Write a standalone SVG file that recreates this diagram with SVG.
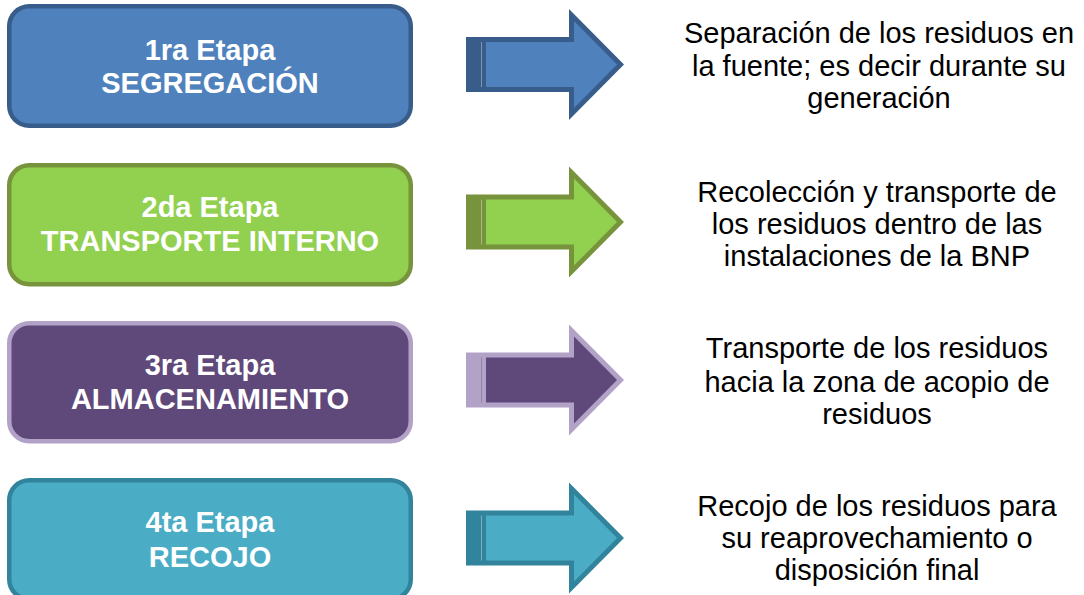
<svg xmlns="http://www.w3.org/2000/svg" xmlns:xlink="http://www.w3.org/1999/xlink" width="1084" height="595" viewBox="0 0 1084 595">
<style>
.box{stroke-width:4.5}
.t{font-family:"Liberation Sans",Arial,sans-serif;font-weight:bold;font-size:29px;fill:#FFFFFF;text-anchor:middle}
.d{font-family:"Liberation Sans",Arial,sans-serif;font-size:29px;fill:#000000;text-anchor:middle}
.tl{stroke-width:1;opacity:0.35}
</style>
<defs>
<polygon id="aOut" points="466,-27.5 569,-27.5 569,-55.5 624,0 569,55.5 569,27.5 466,27.5"/>
<polygon id="aIn" points="486,-22.5 574,-22.5 574,-43.5 617,0 574,43.5 574,22.5 486,22.5"/>
<line id="aLine" x1="481.5" y1="-22.5" x2="481.5" y2="22.5"/>
</defs>
<rect width="1084" height="595" fill="#FFFFFF"/>
<g id="connectors">
<g id="arrow1" transform="translate(0,64.5)"><use xlink:href="#aOut" fill="#385D8A"/><use xlink:href="#aIn" fill="#4F81BD"/><use xlink:href="#aLine" class="tl" stroke="#FFFFFF"/></g>
<g id="arrow2" transform="translate(0,222)"><use xlink:href="#aOut" fill="#77933C"/><use xlink:href="#aIn" fill="#92D050"/><use xlink:href="#aLine" class="tl" stroke="#FFFFFF"/></g>
<g id="arrow3" transform="translate(0,380)"><use xlink:href="#aOut" fill="#B3A2C7"/><use xlink:href="#aIn" fill="#5F497A"/><use xlink:href="#aLine" class="tl" stroke="#5F497A"/></g>
<g id="arrow4" transform="translate(0,538)"><use xlink:href="#aOut" fill="#31849B"/><use xlink:href="#aIn" fill="#4BACC6"/><use xlink:href="#aLine" class="tl" stroke="#FFFFFF"/></g>
</g>
<g id="stage1">
<rect class="box" x="9.25" y="6.25" width="401.5" height="119.5" rx="20" fill="#4F81BD" stroke="#385D8A"/>
<text class="t" x="210" y="60">1ra Etapa</text>
<text class="t" x="210" y="93">SEGREGACIÓN</text>
</g>
<g id="stage2">
<rect class="box" x="9.25" y="165.25" width="401.5" height="119" rx="20" fill="#92D050" stroke="#77933C"/>
<text class="t" x="210" y="217">2da Etapa</text>
<text class="t" x="210" y="251">TRANSPORTE INTERNO</text>
</g>
<g id="stage3">
<rect class="box" x="9.25" y="323.25" width="401.5" height="118" rx="20" fill="#5F497A" stroke="#B3A2C7"/>
<text class="t" x="210" y="375">3ra Etapa</text>
<text class="t" x="210" y="409">ALMACENAMIENTO</text>
</g>
<g id="stage4">
<rect class="box" x="9.25" y="480.25" width="401.5" height="119" rx="20" fill="#4BACC6" stroke="#31849B"/>
<text class="t" x="210" y="532">4ta Etapa</text>
<text class="t" x="210" y="567">RECOJO</text>
</g>
<g id="desc1">
<text class="d" x="879" y="43">Separación de los residuos en</text>
<text class="d" x="879" y="76">la fuente; es decir durante su</text>
<text class="d" x="879" y="108">generación</text>
</g>
<g id="desc2">
<text class="d" x="877" y="202">Recolección y transporte de</text>
<text class="d" x="877" y="234">los residuos dentro de las</text>
<text class="d" x="877" y="266">instalaciones de la BNP</text>
</g>
<g id="desc3">
<text class="d" x="877" y="358">Transporte de los residuos</text>
<text class="d" x="877" y="392">hacia la zona de acopio de</text>
<text class="d" x="877" y="424">residuos</text>
</g>
<g id="desc4">
<text class="d" x="877" y="516">Recojo de los residuos para</text>
<text class="d" x="877" y="548">su reaprovechamiento o</text>
<text class="d" x="877" y="580">disposición final</text>
</g>
</svg>
